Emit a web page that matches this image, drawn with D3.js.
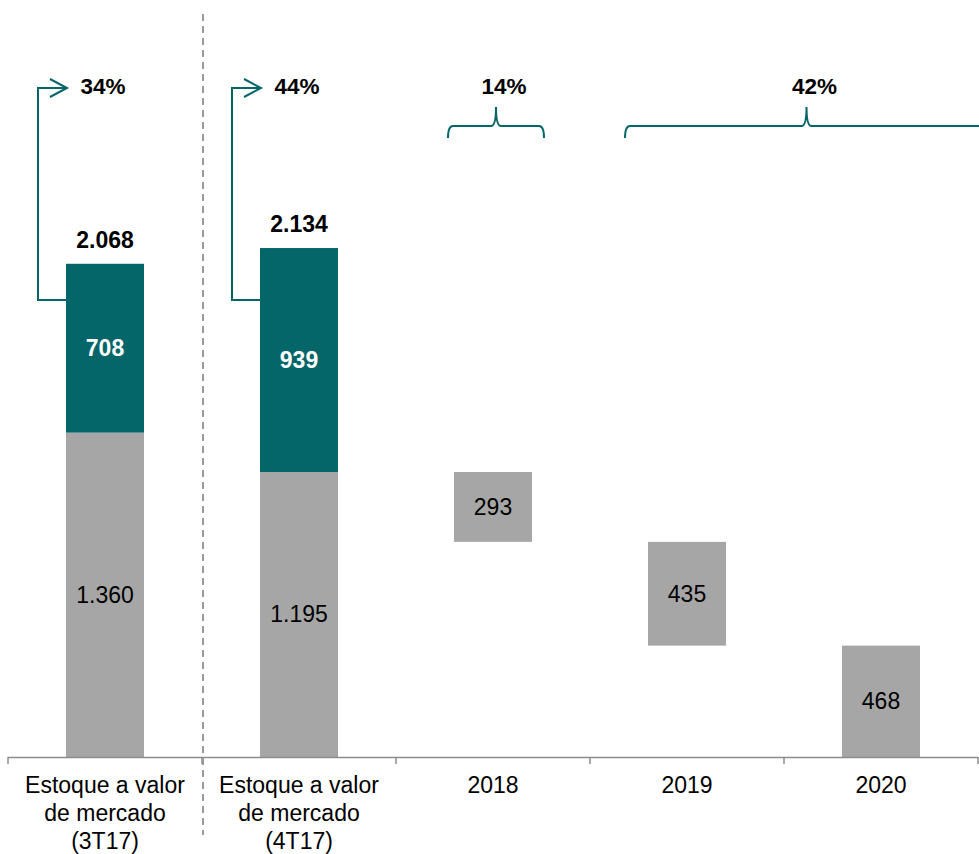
<!DOCTYPE html>
<html>
<head>
<meta charset="utf-8">
<script src="https://cdn.jsdelivr.net/npm/d3@7"></script>
<style>
  body { margin: 0; background: #fff; }
  text { font-family: "Liberation Sans", Arial, sans-serif; }
</style>
</head>
<body>
<script>
const categories = ["3T17", "4T17", "2018", "2019", "2020"];
const categoryLabels = [
    ["Estoque a valor", "de mercado", "(3T17)"],
    ["Estoque a valor", "de mercado", "(4T17)"],
    ["2018"], ["2019"], ["2020"]
];
// stacked stock bars
const stockCats = ["3T17", "4T17"];
const grayValues = [1360, 1195];
const tealValues = [708, 939];
const totalLabels = ["2.068", "2.134"];
const grayLabels = ["1.360", "1.195"];
// waterfall steps going down from the 4T17 gray level
const stepCats = ["2018", "2019", "2020"];
const stepValues = [293, 435, 468];
const pctLabels = ["34%", "44%", "14%", "42%"];

const teal = "#05666a";
const gray = "#a6a6a6";
const width = 979, height = 854;

const svg = d3.select("body").append("svg")
    .attr("width", width)
    .attr("height", height);

const pad = 1 - 78 / 194;
const x = d3.scaleBand()
    .domain(categories)
    .range([8, 978])
    .paddingInner(pad)
    .paddingOuter(pad / 2);

const y = d3.scaleLinear()
    .domain([0, 3000])
    .range([757, 41.5]);

const bw = x.bandwidth();
const half = (x.step() - bw) / 2;

// gray base bars + teal tops
stockCats.forEach((c, i) => {
    svg.append("rect")
        .attr("x", x(c)).attr("width", bw)
        .attr("y", y(grayValues[i])).attr("height", y(0) - y(grayValues[i]))
        .attr("fill", gray);
    svg.append("rect")
        .attr("x", x(c)).attr("width", bw)
        .attr("y", y(grayValues[i] + tealValues[i]))
        .attr("height", y(grayValues[i]) - y(grayValues[i] + tealValues[i]))
        .attr("fill", teal);
    svg.append("text")
        .attr("x", x(c) + bw / 2).attr("y", y(grayValues[i] / 2) + 8)
        .attr("text-anchor", "middle").attr("font-size", 23)
        .attr("fill", "#000").text(grayLabels[i]);
    svg.append("text")
        .attr("x", x(c) + bw / 2).attr("y", y(grayValues[i] + tealValues[i] / 2) + 8)
        .attr("text-anchor", "middle").attr("font-size", 23).attr("font-weight", "bold")
        .attr("fill", "#fff").text(tealValues[i]);
    svg.append("text")
        .attr("x", x(c) + bw / 2).attr("y", y(grayValues[i] + tealValues[i]) - 16)
        .attr("text-anchor", "middle").attr("font-size", 23).attr("font-weight", "bold")
        .attr("fill", "#000").text(totalLabels[i]);
});

// waterfall bars
let level = grayValues[1];
stepCats.forEach((c, i) => {
    const top = level;
    const bottom = Math.max(0, level - stepValues[i]);
    level = level - stepValues[i];
    svg.append("rect")
        .attr("x", x(c)).attr("width", bw)
        .attr("y", y(top)).attr("height", y(bottom) - y(top))
        .attr("fill", gray);
    svg.append("text")
        .attr("x", x(c) + bw / 2).attr("y", y((top + bottom) / 2) + 8)
        .attr("text-anchor", "middle").attr("font-size", 23)
        .attr("fill", "#000").text(stepValues[i]);
});

// x axis with ticks at category boundaries
svg.append("line")
    .attr("x1", 8).attr("x2", 978).attr("y1", 757.5).attr("y2", 757.5)
    .attr("stroke", "#8c8c8c").attr("stroke-width", 1.5);
const bounds = categories.map(c => x(c) - half).concat([x(categories[4]) + bw + half]);
svg.selectAll(".tick").data(bounds).enter().append("line")
    .attr("x1", d => d).attr("x2", d => d)
    .attr("y1", 757).attr("y2", 764)
    .attr("stroke", "#8c8c8c").attr("stroke-width", 1.5);

categories.forEach((c, i) => {
    const t = svg.append("text")
        .attr("x", x(c) + bw / 2).attr("y", 793)
        .attr("text-anchor", "middle").attr("font-size", 23).attr("fill", "#000");
    categoryLabels[i].forEach((line, j) => {
        t.append("tspan").attr("x", x(c) + bw / 2).attr("dy", j ? 28 : 0).text(line);
    });
});

// dashed separator
svg.append("line")
    .attr("x1", bounds[1] + 1).attr("x2", bounds[1] + 1)
    .attr("y1", 14).attr("y2", 835)
    .attr("stroke", "#999").attr("stroke-width", 2)
    .attr("stroke-dasharray", "7,5");

// arrows from teal bars to percentage labels
const arrowTop = 88, arrowBottom = 300;
stockCats.forEach((c, i) => {
    const left = x(c) - 28;
    const tip = x(c) + 1;
    svg.append("path")
        .attr("d", `M${x(c)},${arrowBottom}H${left}V${arrowTop}H${tip}`)
        .attr("fill", "none").attr("stroke", teal).attr("stroke-width", 2);
    svg.append("path")
        .attr("d", `M${tip - 17},${arrowTop - 9}L${tip},${arrowTop}L${tip - 17},${arrowTop + 9}`)
        .attr("fill", "none").attr("stroke", teal).attr("stroke-width", 2);
    svg.append("text")
        .attr("x", tip + 36).attr("y", 94)
        .attr("text-anchor", "middle").attr("font-size", 22.5).attr("font-weight", "bold")
        .attr("fill", "#000").text(pctLabels[i]);
});

// braces over the projected years
const braces = [
    { x0: x("2018") - 6, x1: x("2018") + bw + 12, label: pctLabels[2] },
    { x0: x("2019") - 23, x1: x("2020") + bw + 68, label: pctLabels[3] }
];
const yh = 126, yb = 138, yt = 107, r = 5;
braces.forEach(b => {
    const m = (b.x0 + b.x1) / 2;
    svg.append("path")
        .attr("d", `M${b.x0},${yb}Q${b.x0},${yh} ${b.x0 + r},${yh}H${m - r}Q${m},${yh} ${m},${yt}` +
                   `Q${m},${yh} ${m + r},${yh}H${b.x1 - r}Q${b.x1},${yh} ${b.x1},${yb}`)
        .attr("fill", "none").attr("stroke", teal).attr("stroke-width", 2);
    svg.append("text")
        .attr("x", m + 8).attr("y", 94)
        .attr("text-anchor", "middle").attr("font-size", 22.5).attr("font-weight", "bold")
        .attr("fill", "#000").text(b.label);
});
</script>
</body>
</html>
